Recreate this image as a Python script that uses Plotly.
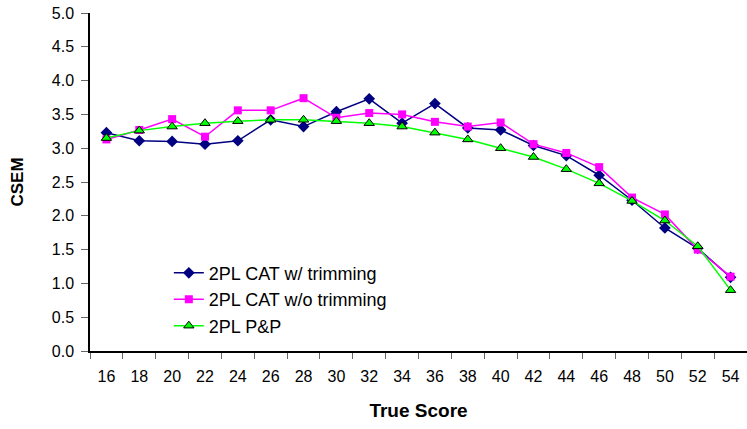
import plotly.graph_objects as go

true_score = [16, 18, 20, 22, 24, 26, 28, 30, 32, 34, 36, 38, 40, 42, 44, 46, 48, 50, 52, 54]

cat_trim = [3.23, 3.11, 3.10, 3.06, 3.11, 3.42, 3.32, 3.54, 3.73, 3.37, 3.66, 3.30, 3.27, 3.04,
            2.89, 2.60, 2.23, 1.82, 1.52, 1.09]
cat_notrim = [3.13, 3.27, 3.43, 3.17, 3.56, 3.56, 3.74, 3.45, 3.52, 3.50, 3.39, 3.32, 3.38, 3.06,
              2.93, 2.72, 2.27, 2.02, 1.50, 1.10]
pp = [3.15, 3.26, 3.32, 3.37, 3.40, 3.42, 3.42, 3.40, 3.37, 3.32, 3.23, 3.13, 3.00, 2.87,
      2.69, 2.48, 2.22, 1.93, 1.55, 0.90]

labels = [str(v) for v in true_score]

fig = go.Figure()
fig.add_trace(go.Scatter(
    x=labels, y=cat_trim, mode="lines+markers", name="2PL CAT w/ trimming",
    line=dict(color="#000080", width=1.5),
    marker=dict(symbol="diamond", size=9, color="#000080"),
))
fig.add_trace(go.Scatter(
    x=labels, y=cat_notrim, mode="lines+markers", name="2PL CAT w/o trimming",
    line=dict(color="#FF00FF", width=1.5),
    marker=dict(symbol="square", size=8, color="#FF00FF"),
))
fig.add_trace(go.Scatter(
    x=labels, y=pp, mode="lines+markers", name="2PL P&P",
    line=dict(color="#00FF00", width=1.5),
    marker=dict(symbol="triangle-up", size=9, color="#00FF00",
                line=dict(color="black", width=1)),
))

font = "Liberation Sans, Arial, sans-serif"
fig.update_layout(
    width=747, height=429,
    margin=dict(l=90, r=0, t=13, b=78),
    paper_bgcolor="white", plot_bgcolor="white",
    font=dict(family=font, size=16, color="black"),
    showlegend=True,
    legend=dict(x=0.12, y=0.285, xanchor="left", yanchor="top",
                bgcolor="rgba(0,0,0,0)", font=dict(size=18),
                tracegroupgap=0, itemsizing="trace"),
    xaxis=dict(
        type="category", range=[-0.5, 19.5],
        showline=True, linecolor="black", linewidth=1.5,
        ticks="outside", tickson="boundaries", ticklen=6, tickcolor="#666",
        showgrid=False, zeroline=False,
        ticklabelstandoff=10,
        title=dict(text="<b>True Score</b>", font=dict(size=19), standoff=20),
        tickfont=dict(size=16),
    ),
    yaxis=dict(
        range=[0, 5], dtick=0.5, tickformat=".1f",
        showline=True, linecolor="black", linewidth=1.5,
        ticks="outside", ticklen=7, tickcolor="#666",
        showgrid=False, zeroline=False,
        ticklabelstandoff=4,
        title=dict(text="<b>CSEM</b>", font=dict(size=17), standoff=24),
        tickfont=dict(size=16),
    ),
)

fig.write_html("out.html")
